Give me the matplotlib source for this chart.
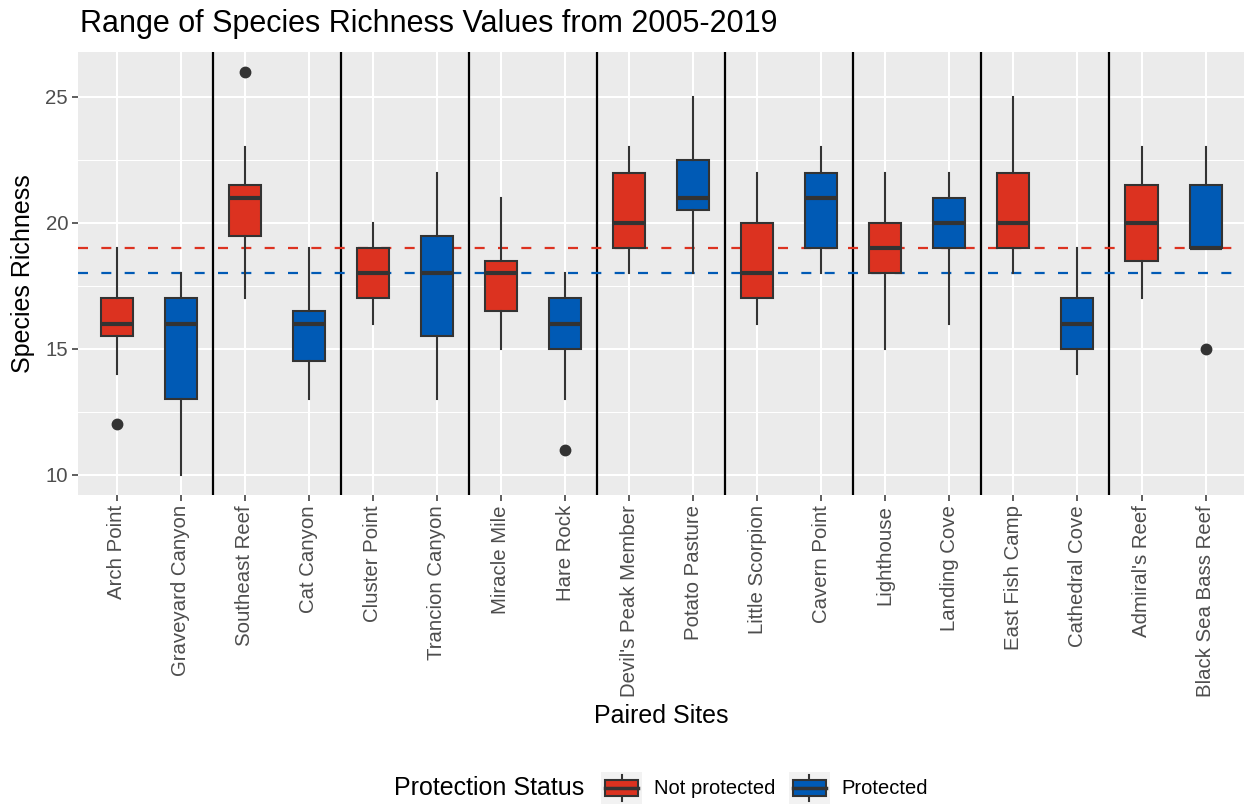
import matplotlib
matplotlib.use("Agg")
import matplotlib.pyplot as plt
from matplotlib.legend_handler import HandlerBase
from matplotlib.patches import Rectangle, Patch
from matplotlib.lines import Line2D
from matplotlib.ticker import MultipleLocator

plt.rcParams["font.family"] = ["Liberation Sans", "DejaVu Sans"]

# paired sites, left to right
sites = ["Arch Point", "Graveyard Canyon", "Southeast Reef", "Cat Canyon",
         "Cluster Point", "Trancion Canyon", "Miracle Mile", "Hare Rock",
         "Devil's Peak Member", "Potato Pasture", "Little Scorpion", "Cavern Point",
         "Lighthouse", "Landing Cove", "East Fish Camp", "Cathedral Cove",
         "Admiral's Reef", "Black Sea Bass Reef"]
status = ["Not protected", "Protected"] * 9

# five-number summaries of species richness, 2005-2019
whisker_lo = [14, 10, 17, 13, 16, 13, 15, 13, 18, 18, 16, 18, 15, 16, 18, 14, 17, 19]
q1 = [15.5, 13, 19.5, 14.5, 17, 15.5, 16.5, 15, 19, 20.5, 17, 19, 18, 19, 19, 15, 18.5, 19]
median = [16, 16, 21, 16, 18, 18, 18, 16, 20, 21, 18, 21, 19, 20, 20, 16, 20, 19]
q3 = [17, 17, 21.5, 16.5, 19, 19.5, 18.5, 17, 22, 22.5, 20, 22, 20, 21, 22, 17, 21.5, 21.5]
whisker_hi = [19, 18, 23, 19, 20, 22, 21, 18, 23, 25, 22, 23, 22, 22, 25, 19, 23, 23]
outliers = [[12], [], [26], [], [], [], [], [11], [], [], [], [], [], [], [], [], [], [15]]

# mean richness per protection status
status_means = {"Not protected": 19, "Protected": 18}
colors = {"Not protected": "#DC3220", "Protected": "#005AB5"}

W, H = 1244, 807
fig = plt.figure(figsize=(W / 100, H / 100), dpi=100)
ax = fig.add_axes([78.2 / W, 1 - 495 / H, 1 - 78.2 / W, (495 - 51.6) / H])
ax.set_facecolor("#EBEBEB")
for s in ax.spines.values():
    s.set_visible(False)

stats = []
for i in range(len(sites)):
    stats.append({"whislo": whisker_lo[i], "q1": q1[i], "med": median[i],
                  "q3": q3[i], "whishi": whisker_hi[i], "fliers": outliers[i]})

edge = "#333333"
bp = ax.bxp(stats, positions=range(len(sites)), widths=0.5, patch_artist=True,
            showcaps=False, manage_ticks=False,
            boxprops=dict(edgecolor=edge, linewidth=1.5),
            medianprops=dict(color=edge, linewidth=3.0, solid_capstyle="butt"),
            whiskerprops=dict(color=edge, linewidth=1.5),
            flierprops=dict(marker="o", markerfacecolor=edge, markeredgecolor=edge,
                            markersize=7.5))
for patch, st in zip(bp["boxes"], status):
    patch.set_facecolor(colors[st])
for art in bp["boxes"] + bp["medians"] + bp["whiskers"] + bp["fliers"]:
    art.set_zorder(3)

# dividers between site pairs
for x in range(1, len(sites) - 1, 2):
    ax.axvline(x + 0.5, color="black", linewidth=1.6, zorder=2)

for st, m in status_means.items():
    ax.axhline(m, color=colors[st], linewidth=1.6, linestyle=(0, (4.5, 6)),
               zorder=2.5)

ax.set_xlim(-0.6, len(sites) - 0.4)
ax.set_ylim(9.2, 26.8)
ax.set_yticks([10, 15, 20, 25])
ax.yaxis.set_minor_locator(MultipleLocator(2.5))
ax.set_xticks(range(len(sites)))
ax.set_xticklabels(sites, rotation=90, va="top", ha="center")

ax.set_axisbelow(True)
ax.grid(which="major", color="white", linewidth=1.5)
ax.grid(which="minor", axis="y", color="white", linewidth=0.75)
ax.tick_params(which="major", length=4.3, width=1.1, color=edge, pad=3,
               labelsize=14.7, labelcolor="#4D4D4D")
ax.tick_params(which="minor", length=0)

fig.text(80 / W, 1 - 32 / H, "Range of Species Richness Values from 2005-2019",
         fontsize=22, ha="left", va="baseline")
fig.text(661 / W, 1 - 716 / H, "Paired Sites", fontsize=18, ha="center", va="center")
fig.text(23 / W, 1 - 273.5 / H, "Species Richness", fontsize=18, rotation=90,
         ha="center", va="center")


class BoxKey(HandlerBase):
    def create_artists(self, legend, orig, xd, yd, w, h, fontsize, trans):
        x0, y0 = -xd, -yd
        bg = Rectangle((x0, y0), w, h, facecolor="#F2F2F2", edgecolor="none",
                       transform=trans)
        box = Rectangle((x0 + 0.1 * w, y0 + 0.23 * h), 0.8 * w, 0.54 * h,
                        facecolor=orig.get_facecolor(), edgecolor=edge,
                        linewidth=1.5, transform=trans)
        med = Line2D([x0 + 0.1 * w, x0 + 0.9 * w], [y0 + 0.5 * h] * 2, color=edge,
                     linewidth=2.5, transform=trans)
        lo = Line2D([x0 + 0.5 * w] * 2, [y0 + 0.08 * h, y0 + 0.23 * h], color=edge,
                    linewidth=1.5, transform=trans)
        hi = Line2D([x0 + 0.5 * w] * 2, [y0 + 0.77 * h, y0 + 0.92 * h], color=edge,
                    linewidth=1.5, transform=trans)
        return [bg, lo, hi, box, med]


handles = [Patch(facecolor=colors[k]) for k in status_means]
fig.text(394 / W, 1 - 788 / H, "Protection Status", fontsize=18,
         ha="left", va="center")
fig.legend(handles, list(status_means), loc="center left",
           bbox_to_anchor=(601 / W, 1 - 788 / H), ncol=2, frameon=False,
           fontsize=14.5, handlelength=2.04, handleheight=2.0, handletextpad=0.6,
           columnspacing=0.65, borderpad=0, borderaxespad=0,
           handler_map={Patch: BoxKey()})

fig.savefig("out.png", dpi=100)
